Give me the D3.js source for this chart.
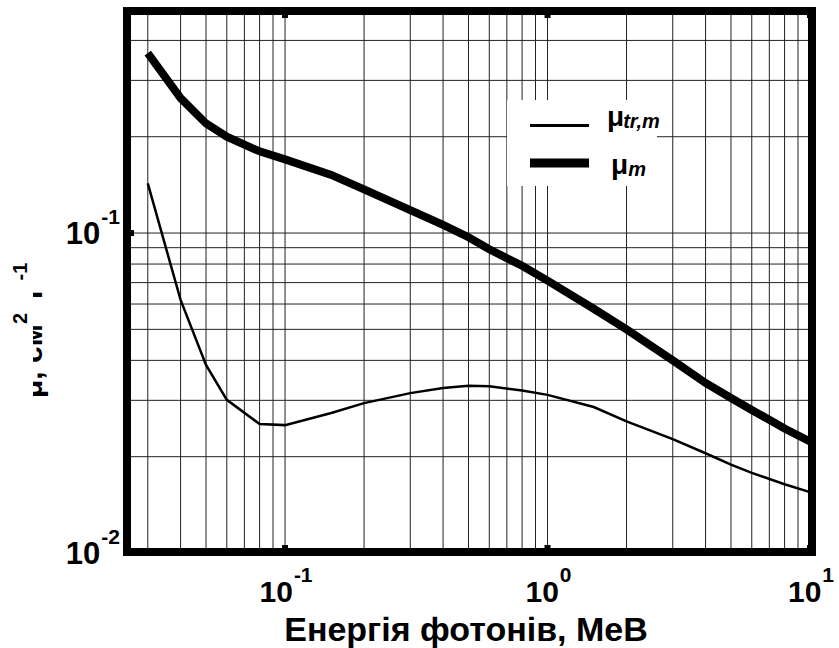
<!DOCTYPE html>
<html>
<head>
<meta charset="utf-8">
<script src="https://cdn.jsdelivr.net/npm/d3@7"></script>
<style>
  body { margin: 0; background: #fff; }
  text { font-family: "Liberation Sans", Arial, sans-serif; font-weight: bold; }
</style>
</head>
<body>
<div id="chart"></div>
<script>
const WIDTH = 839
const HEIGHT = 648

// photon energy, MeV
const energy = [0.03, 0.04, 0.05, 0.06, 0.08, 0.1, 0.15, 0.2, 0.3, 0.4, 0.5, 0.6, 0.8, 1, 1.5, 2, 3, 4, 5, 6, 8, 10]
// mass attenuation coefficient, cm2/g
const muM = [0.365, 0.264, 0.220, 0.200, 0.180, 0.170, 0.152, 0.137, 0.118, 0.106, 0.097, 0.089, 0.079, 0.071, 0.058, 0.050, 0.040, 0.034, 0.0305, 0.028, 0.0245, 0.0223]
// mass energy-transfer coefficient, cm2/g
const muTr = [0.143, 0.0618, 0.0387, 0.0301, 0.0253, 0.0251, 0.0274, 0.0294, 0.0316, 0.0328, 0.0333, 0.0332, 0.0322, 0.0312, 0.0286, 0.0258, 0.0227, 0.0205, 0.0189, 0.0178, 0.0164, 0.0155]

const xGrid = [0.03, 0.04, 0.05, 0.06, 0.07, 0.08, 0.09, 0.1, 0.2, 0.3, 0.4, 0.5, 0.6, 0.7, 0.8, 0.9, 1, 2, 3, 4, 5, 6, 7, 8, 9, 10]
const yGrid = [0.02, 0.03, 0.04, 0.05, 0.06, 0.07, 0.08, 0.09, 0.1, 0.2, 0.3, 0.4]
const xTicks = [{v: 0.1, e: "-1"}, {v: 1, e: "0"}, {v: 10, e: "1"}]
const yTicks = [{v: 0.1, e: "-1"}, {v: 0.01, e: "-2"}]

const x = d3.scaleLog().domain([0.025, 10]).range([127, 810])
const y = d3.scaleLog().domain([0.01, 0.5]).range([553, 9.4])

const svg = d3.select("#chart")
  .append("svg")
  .attr("width", WIDTH)
  .attr("height", HEIGHT)

// grid
const grid = svg.append("g")
  .attr("stroke", "#222")
  .attr("stroke-width", 1)

grid.selectAll(".vx")
  .data(xGrid)
  .join("line")
  .attr("x1", d => x(d)).attr("x2", d => x(d))
  .attr("y1", y.range()[0]).attr("y2", y.range()[1])

grid.selectAll(".hy")
  .data(yGrid)
  .join("line")
  .attr("x1", x.range()[0]).attr("x2", x.range()[1])
  .attr("y1", d => y(d)).attr("y2", d => y(d))

// curves
const line = d3.line()
  .x(d => x(d[0]))
  .y(d => y(d[1]))

svg.append("path")
  .datum(d3.zip(energy, muTr))
  .attr("d", line)
  .attr("fill", "none")
  .attr("stroke", "black")
  .attr("stroke-width", 2.5)

svg.append("path")
  .datum(d3.zip(energy, muM))
  .attr("d", line)
  .attr("fill", "none")
  .attr("stroke", "black")
  .attr("stroke-width", 8)
  .attr("stroke-linejoin", "miter")

// legend
const legend = svg.append("g")
legend.append("rect")
  .attr("x", 507).attr("y", 100)
  .attr("width", 150).attr("height", 86)
  .attr("fill", "white")

legend.append("line")
  .attr("x1", 530).attr("x2", 589)
  .attr("y1", 125.5).attr("y2", 125.5)
  .attr("stroke", "black").attr("stroke-width", 3)

legend.append("line")
  .attr("x1", 530).attr("x2", 589)
  .attr("y1", 163).attr("y2", 163)
  .attr("stroke", "black").attr("stroke-width", 9)

const l1 = legend.append("text").attr("x", 607).attr("y", 126).attr("font-size", 28)
l1.append("tspan").text("μ")
l1.append("tspan").attr("font-size", 20).attr("font-style", "italic").attr("dx", -1).attr("dy", 2).text("tr,m")

const l2 = legend.append("text").attr("x", 611).attr("y", 174).attr("font-size", 28)
l2.append("tspan").text("μ")
l2.append("tspan").attr("font-size", 20).attr("font-style", "italic").attr("dx", 0).attr("dy", 2).text("m")

// frame
svg.append("rect")
  .attr("x", 127).attr("y", 11)
  .attr("width", 685).attr("height", 541)
  .attr("fill", "none")
  .attr("stroke", "black")
  .attr("stroke-width", 8)

// small ticks at decades
const tk = svg.append("g").attr("stroke", "black").attr("stroke-width", 6)
tk.selectAll(".tt").data(xTicks).join("line")
  .attr("x1", d => x(d.v)).attr("x2", d => x(d.v))
  .attr("y1", 14).attr("y2", 18)
tk.selectAll(".tb").data(xTicks).join("line")
  .attr("x1", d => x(d.v)).attr("x2", d => x(d.v))
  .attr("y1", 549).attr("y2", 545)
tk.selectAll(".tl").data(yTicks).join("line")
  .attr("x1", 130).attr("x2", 134)
  .attr("y1", d => y(d.v)).attr("y2", d => y(d.v))

// tick labels
const xl = svg.append("g").attr("font-size", 30).attr("text-anchor", "middle")
  .selectAll("text").data(xTicks).join("text")
  .attr("x", d => x(d.v) + 1).attr("y", 602)
xl.append("tspan").text("10")
xl.append("tspan").attr("font-size", 21).attr("dx", 1).attr("dy", -20).text(d => d.e)

const yl = svg.append("g").attr("font-size", 31).attr("text-anchor", "end")
  .selectAll("text").data(yTicks).join("text")
  .attr("x", 120).attr("y", d => y(d.v) + 11)
yl.append("tspan").text("10")
yl.append("tspan").attr("font-size", 21).attr("dx", 1).attr("dy", -20).text(d => d.e)

// axis titles
svg.append("text")
  .attr("x", 466).attr("y", 641)
  .attr("text-anchor", "middle")
  .attr("font-size", 34)
  .text("Енергія фотонів, МеВ")

// y title: in the original the main glyphs are cut off, exponents are not
const yTitleParts = [["μ, см", false, 0], ["2", true, 0], ["г", false, 14], ["-1", true, 6]]
const yTitle = showSup => {
  const t = svg.append("text")
    .attr("transform", "translate(42,398) rotate(-90)")
    .attr("font-size", 30)
  let shift = 0
  yTitleParts.forEach(([s, sup, gap]) => {
    const want = sup ? -15 : 0
    t.append("tspan")
      .attr("font-size", sup ? 20 : 30)
      .attr("dx", gap)
      .attr("dy", want - shift)
      .attr("fill-opacity", sup === showSup ? 1 : 0)
      .text(s)
    shift = want
  })
}
yTitle(false)
svg.append("rect")
  .attr("x", 0).attr("y", 230)
  .attr("width", 33).attr("height", 190)
  .attr("fill", "white")
yTitle(true)
</script>
</body>
</html>
